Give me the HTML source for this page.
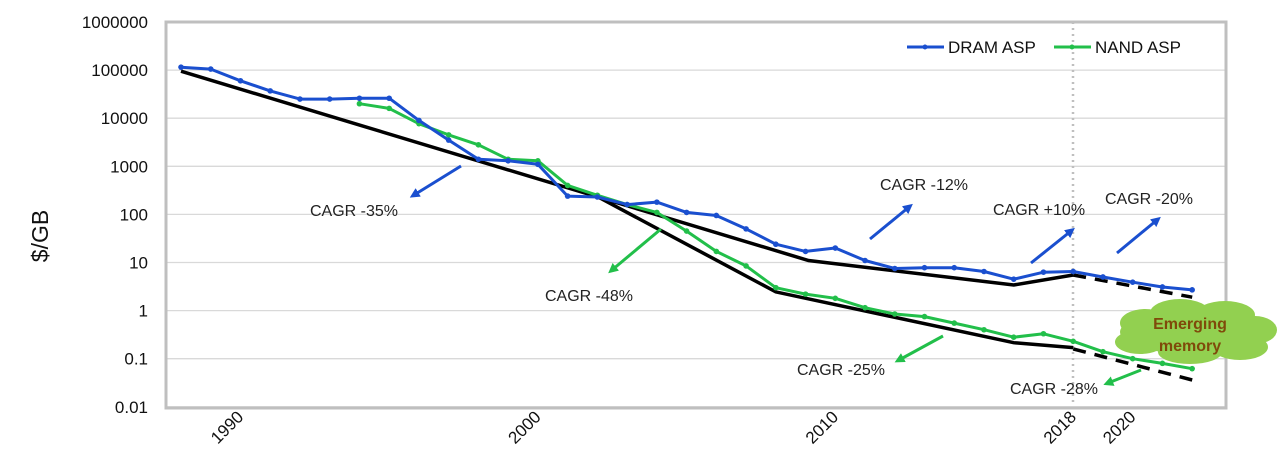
<!DOCTYPE html>
<html><head><meta charset="utf-8">
<style>
html,body{margin:0;padding:0;background:#fff;}
svg{display:block;font-family:"Liberation Sans",sans-serif;}
</style></head>
<body>
<svg id="chart" width="1280" height="462" viewBox="0 0 1280 462">
<defs>
<marker id="ab" markerWidth="10" markerHeight="10" refX="5" refY="5" orient="auto" markerUnits="userSpaceOnUse"><path d="M0,0 L10,5 L0,10 z" fill="#1a4fcf"/></marker>
<marker id="ag" markerWidth="10" markerHeight="10" refX="5" refY="5" orient="auto" markerUnits="userSpaceOnUse"><path d="M0,0 L10,5 L0,10 z" fill="#22bf4a"/></marker>
</defs>
<g id="grid"></g>
<rect x="166" y="22" width="1060" height="386" fill="none" stroke="#bfbfbf" stroke-width="3"/>
<line x1="1073" y1="22" x2="1073" y2="406" stroke="#bfbfbf" stroke-width="2.5" stroke-dasharray="2,4"/>
<g id="yticks"></g>
<g id="xticks"></g>
<text transform="translate(48,236) rotate(-90)" text-anchor="middle" font-size="23" fill="#111">$/GB</text>
<g id="trends"></g>
<g id="series"></g>
<g font-size="16" fill="#222">
<line x1="461" y1="166" x2="414" y2="195" stroke="#1a4fcf" stroke-width="3" marker-end="url(#ab)"/>
<text x="310" y="216">CAGR -35%</text>
<line x1="661" y1="229" x2="612" y2="270" stroke="#22bf4a" stroke-width="3" marker-end="url(#ag)"/>
<text x="545" y="301">CAGR -48%</text>
<line x1="870" y1="239" x2="909" y2="207" stroke="#1a4fcf" stroke-width="3" marker-end="url(#ab)"/>
<text x="880" y="190">CAGR -12%</text>
<line x1="943" y1="336" x2="899" y2="360" stroke="#22bf4a" stroke-width="3" marker-end="url(#ag)"/>
<text x="797" y="375">CAGR -25%</text>
<line x1="1031" y1="263" x2="1071" y2="231" stroke="#1a4fcf" stroke-width="3" marker-end="url(#ab)"/>
<text x="993" y="215">CAGR +10%</text>
<line x1="1117" y1="253" x2="1157" y2="220" stroke="#1a4fcf" stroke-width="3" marker-end="url(#ab)"/>
<text x="1105" y="204">CAGR -20%</text>
<line x1="1141" y1="370" x2="1108" y2="383" stroke="#22bf4a" stroke-width="3" marker-end="url(#ag)"/>
<text x="1010" y="394">CAGR -28%</text>
</g>
<g>
<g fill="#92d050">
<ellipse cx="1192" cy="332" rx="72" ry="22"/>
<ellipse cx="1145" cy="323" rx="25" ry="14"/>
<ellipse cx="1180" cy="313" rx="30" ry="14"/>
<ellipse cx="1225" cy="315" rx="30" ry="14"/>
<ellipse cx="1255" cy="330" rx="22" ry="14"/>
<ellipse cx="1240" cy="347" rx="28" ry="13"/>
<ellipse cx="1190" cy="352" rx="32" ry="12"/>
<ellipse cx="1140" cy="342" rx="25" ry="12"/>
</g>
<text x="1190" y="329" text-anchor="middle" font-size="16" font-weight="bold" fill="#7f4a0a">Emerging</text>
<text x="1190" y="351" text-anchor="middle" font-size="16" font-weight="bold" fill="#7f4a0a">memory</text>
</g>
<g>
<line x1="907" y1="47" x2="944" y2="47" stroke="#1a4fcf" stroke-width="3"/>
<circle cx="925" cy="47" r="2.5" fill="#1a4fcf"/>
<text x="948" y="53" font-size="17" fill="#111">DRAM ASP</text>
<line x1="1054" y1="47" x2="1091" y2="47" stroke="#22bf4a" stroke-width="3"/>
<circle cx="1072" cy="47" r="2.5" fill="#22bf4a"/>
<text x="1095" y="53" font-size="17" fill="#111">NAND ASP</text>
</g>
</svg>
<script>
const dramYears = [1988,1989,1990,1991,1992,1993,1994,1995,1996,1997,1998,1999,2000,2001,2002,2003,2004,2005,2006,2007,2008,2009,2010,2011,2012,2013,2014,2015,2016,2017,2018,2019,2020,2021,2022];
const dramValues = [115000,105000,60000,37000,25000,25000,26000,26000,9000,3500,1400,1300,1100,240,230,160,180,110,95,50,24,17,20,11,7.5,7.8,7.8,6.5,4.5,6.3,6.5,5,3.9,3.1,2.7];
const nandYears = [1994,1995,1996,1997,1998,1999,2000,2001,2002,2003,2004,2005,2006,2007,2008,2009,2010,2011,2012,2013,2014,2015,2016,2017,2018,2019,2020,2021,2022];
const nandValues = [20000,16000,7700,4500,2800,1400,1300,400,250,160,110,45,17,8.5,3,2.2,1.8,1.15,0.85,0.75,0.55,0.4,0.28,0.33,0.23,0.14,0.1,0.08,0.062];
const trendUpperYears = [1988,2009.1,2016,2018];
const trendUpperValues = [95000,11,3.4,5.5];
const trendLowerYears = [2002,2008,2016,2018];
const trendLowerValues = [234,2.45,0.215,0.17];
const projUpperYears = [2018,2022];
const projUpperValues = [5.5,1.9];
const projLowerYears = [2018,2022];
const projLowerValues = [0.16,0.036];
const yTickValues = [1000000,100000,10000,1000,100,10,1,0.1,0.01];
const yTickLabels = ["1000000","100000","10000","1000","100","10","1","0.1","0.01"];
const xTickYears = [1990,2000,2010,2018,2020];
const xTickLabels = ["1990","2000","2010","2018","2020"];

const NS="http://www.w3.org/2000/svg";
function xs(yr){return 181+(yr-1988)*29.74;}
function ys(v){return 22+(6-Math.log10(v))*48.1;}
function mk(tag,attrs,parent){const e=document.createElementNS(NS,tag);for(const k in attrs)e.setAttribute(k,attrs[k]);parent.appendChild(e);return e;}
const grid=document.getElementById('grid'),yt=document.getElementById('yticks'),xt=document.getElementById('xticks'),tr=document.getElementById('trends'),se=document.getElementById('series');
yTickValues.forEach((v,i)=>{
  const g=mk('line',{x1:166,x2:1226,y1:ys(v),y2:ys(v),stroke:'#d9d9d9','stroke-width':1.3},grid);
  
  
  const t=mk('text',{x:148,y:ys(v)+6,'text-anchor':'end','font-size':17,fill:'#111'},yt);
  t.textContent=yTickLabels[i];
  
  
});
xTickYears.forEach((yr,i)=>{
  const x=xs(yr)+4,y=418;
  const t=mk('text',{x:x,y:y,'text-anchor':'end','font-size':17,fill:'#111',transform:`rotate(-45 ${x} ${y})`},xt);
  t.textContent=xTickLabels[i];
  
  
});
function pts(yrs,vals){return yrs.map((y,i)=>xs(y).toFixed(1)+','+ys(vals[i]).toFixed(1)).join(' ');}
const l1=mk('polyline',{points:pts(trendUpperYears,trendUpperValues),fill:'none',stroke:'#000','stroke-width':3.5},tr);


const l2=mk('polyline',{points:pts(trendLowerYears,trendLowerValues),fill:'none',stroke:'#000','stroke-width':3.5},tr);


const l3=mk('polyline',{points:pts(projUpperYears,projUpperValues),fill:'none',stroke:'#000','stroke-width':3.5,'stroke-dasharray':'13,9'},tr);


const l4=mk('polyline',{points:pts(projLowerYears,projLowerValues),fill:'none',stroke:'#000','stroke-width':3.5,'stroke-dasharray':'13,9'},tr);


function series(yrs,vals,color,name){
  const p=mk('polyline',{points:pts(yrs,vals),fill:'none',stroke:color,'stroke-width':3,'stroke-linejoin':'round'},se);
  
  
  yrs.forEach((y,i)=>{
    const c=mk('circle',{cx:xs(y),cy:ys(vals[i]),r:2.8,fill:color},se);
    
    
  });
}
series(nandYears,nandValues,'#22bf4a','nand-asp');
series(dramYears,dramValues,'#1a4fcf','dram-asp');
</script>
</body></html>
